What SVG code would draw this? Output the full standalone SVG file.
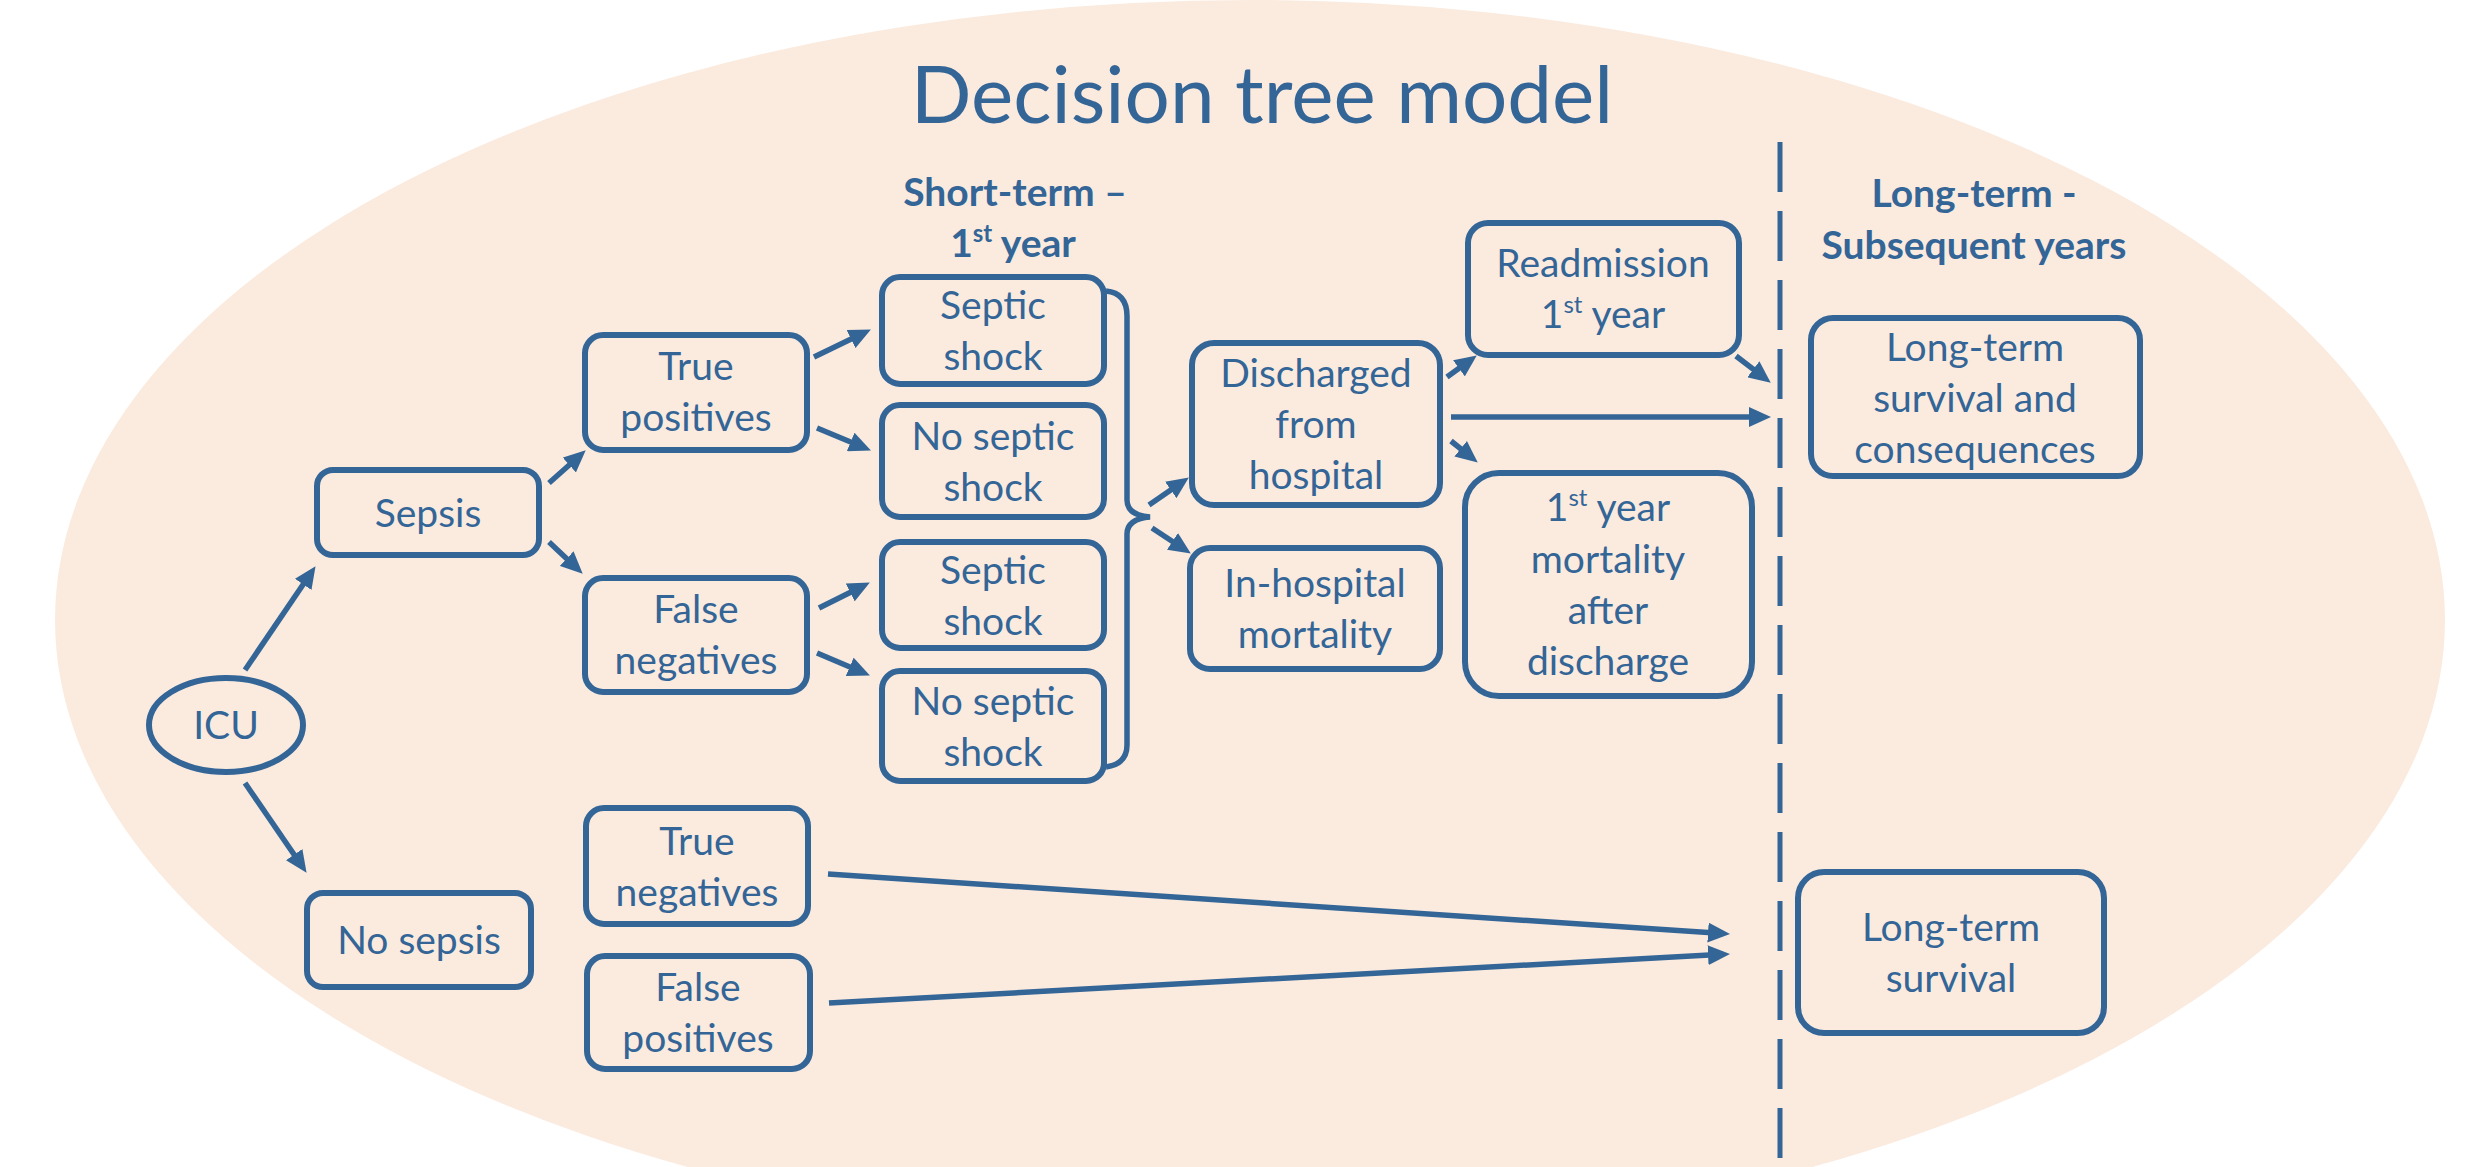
<svg xmlns="http://www.w3.org/2000/svg" width="2474" height="1167" viewBox="0 0 2474 1167">
<style>
.box{fill:none;stroke:#346597;stroke-width:6}
.t{font-family:Lato,"Open Sans",sans-serif;font-size:39px;fill:#346597;text-anchor:middle}
.h{font-family:Lato,"Open Sans",sans-serif;font-size:39px;font-weight:bold;fill:#346597;text-anchor:middle}
.c{stroke:#346597;stroke-width:5.5;fill:none}
.sup{font-size:24px}
</style>
<defs>
<marker id="ah" markerUnits="userSpaceOnUse" markerWidth="22" markerHeight="20" refX="15" refY="10" orient="auto">
<path d="M0,0 L22,10 L0,20 z" fill="#346597"/>
</marker>
</defs>
<rect width="2474" height="1167" fill="#ffffff"/>
<ellipse cx="1250" cy="620" rx="1195" ry="620" fill="#FBEBDF"/>
<text x="1262" y="123" font-family="Lato,'Open Sans',sans-serif" font-size="80" fill="#346597" text-anchor="middle">Decision tree model</text>
<text class="h" x="1015" y="206">Short-term –</text>
<text class="h" x="1013" y="257">1<tspan class="sup" dy="-15">st</tspan><tspan dy="15"> year</tspan></text>
<text class="h" x="1974" y="207">Long-term -</text>
<text class="h" x="1974" y="259">Subsequent years</text>
<line x1="1780" y1="142" x2="1780" y2="1167" stroke="#346597" stroke-width="5" stroke-dasharray="50 19"/>
<g id="connectors">
<line class="c" x1="245" y1="670" x2="311.6" y2="572" marker-end="url(#ah)"/>
<line class="c" x1="245" y1="783" x2="302.6" y2="867" marker-end="url(#ah)"/>
<line class="c" x1="549" y1="483" x2="580.5" y2="455" marker-end="url(#ah)"/>
<line class="c" x1="549" y1="542" x2="577.6" y2="568.9" marker-end="url(#ah)"/>
<line class="c" x1="814" y1="357" x2="864.6" y2="332.6" marker-end="url(#ah)"/>
<line class="c" x1="817" y1="428" x2="864.5" y2="447.7" marker-end="url(#ah)"/>
<line class="c" x1="819" y1="608" x2="863.6" y2="585.7" marker-end="url(#ah)"/>
<line class="c" x1="817" y1="653" x2="863.5" y2="672.7" marker-end="url(#ah)"/>
<path class="c" d="M1106,291 Q1127,293 1127,316 L1127,500 Q1127,515 1150,517 Q1127,519 1127,534 L1127,745 Q1127,764 1106,767"/>
<line class="c" x1="1149" y1="505" x2="1183.1" y2="481.4" marker-end="url(#ah)"/>
<line class="c" x1="1152" y1="528" x2="1185" y2="549.7" marker-end="url(#ah)"/>
<line class="c" x1="1447" y1="377" x2="1471.1" y2="359.5" marker-end="url(#ah)"/>
<line class="c" x1="1451" y1="417" x2="1764" y2="417" marker-end="url(#ah)"/>
<line class="c" x1="1451" y1="441" x2="1472.3" y2="458.2" marker-end="url(#ah)"/>
<line class="c" x1="1736" y1="356" x2="1765.2" y2="378.4" marker-end="url(#ah)"/>
<line class="c" x1="828" y1="874" x2="1723" y2="933.6" marker-end="url(#ah)"/>
<line class="c" x1="829" y1="1003" x2="1723" y2="954.3" marker-end="url(#ah)"/>
</g>
<g id="icu"><ellipse class="box" cx="226" cy="725" rx="77" ry="47"/><text class="t" x="226" y="739">ICU</text></g>
<g id="sepsis"><rect class="box" x="317" y="470" width="222" height="85" rx="16"/><text class="t" x="428" y="527">Sepsis</text></g>
<g id="true-positives"><rect class="box" x="585" y="335" width="222" height="115" rx="18"/><text class="t" x="696" y="380">True</text><text class="t" x="696" y="431">positives</text></g>
<g id="false-negatives"><rect class="box" x="585" y="578" width="222" height="114" rx="18"/><text class="t" x="696" y="623">False</text><text class="t" x="696" y="674">negatives</text></g>
<g id="septic-shock-1"><rect class="box" x="882" y="277" width="222" height="107" rx="18"/><text class="t" x="993" y="319">Septic</text><text class="t" x="993" y="370">shock</text></g>
<g id="no-septic-shock-1"><rect class="box" x="882" y="405" width="222" height="112" rx="18"/><text class="t" x="993" y="450">No septic</text><text class="t" x="993" y="501">shock</text></g>
<g id="septic-shock-2"><rect class="box" x="882" y="542" width="222" height="106" rx="18"/><text class="t" x="993" y="584">Septic</text><text class="t" x="993" y="635">shock</text></g>
<g id="no-septic-shock-2"><rect class="box" x="882" y="671" width="222" height="110" rx="18"/><text class="t" x="993" y="715">No septic</text><text class="t" x="993" y="766">shock</text></g>
<g id="discharged"><rect class="box" x="1192" y="343" width="248" height="162" rx="22"/><text class="t" x="1316" y="387">Discharged</text><text class="t" x="1316" y="438">from</text><text class="t" x="1316" y="489">hospital</text></g>
<g id="in-hospital"><rect class="box" x="1190" y="548" width="250" height="121" rx="20"/><text class="t" x="1315" y="597">In-hospital</text><text class="t" x="1315" y="648">mortality</text></g>
<g id="readmission"><rect class="box" x="1468" y="223" width="271" height="132" rx="20"/><text class="t" x="1603" y="277">Readmission</text><text class="t" x="1603" y="328">1<tspan class="sup" dy="-15">st</tspan><tspan dy="15"> year</tspan></text></g>
<g id="first-year-mortality"><rect class="box" x="1465" y="473" width="287" height="223" rx="34"/><text class="t" x="1608" y="521">1<tspan class="sup" dy="-15">st</tspan><tspan dy="15"> year</tspan></text><text class="t" x="1608" y="573">mortality</text><text class="t" x="1608" y="624">after</text><text class="t" x="1608" y="675">discharge</text></g>
<g id="long-term-consequences"><rect class="box" x="1811" y="318" width="329" height="158" rx="22"/><text class="t" x="1975" y="361">Long-term</text><text class="t" x="1975" y="412">survival and</text><text class="t" x="1975" y="463">consequences</text></g>
<g id="no-sepsis"><rect class="box" x="307" y="893" width="224" height="94" rx="16"/><text class="t" x="419" y="954">No sepsis</text></g>
<g id="true-negatives"><rect class="box" x="586" y="808" width="222" height="116" rx="18"/><text class="t" x="697" y="855">True</text><text class="t" x="697" y="906">negatives</text></g>
<g id="false-positives"><rect class="box" x="587" y="956" width="223" height="113" rx="18"/><text class="t" x="698" y="1001">False</text><text class="t" x="698" y="1052">positives</text></g>
<g id="long-term-survival"><rect class="box" x="1798" y="872" width="306" height="161" rx="26"/><text class="t" x="1951" y="941">Long-term</text><text class="t" x="1951" y="992">survival</text></g>
</svg>
